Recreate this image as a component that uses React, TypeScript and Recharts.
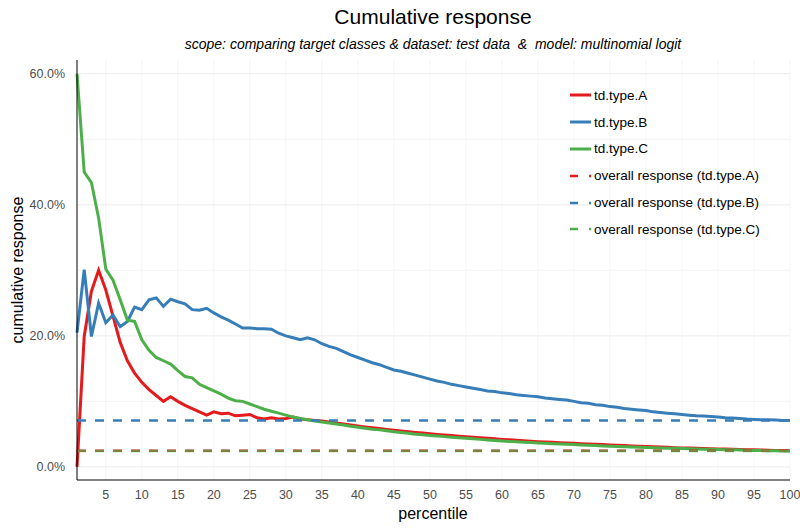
import { CartesianGrid, Line, LineChart, ReferenceLine, XAxis, YAxis } from "recharts";

// percentile (x) and cumulative response in % for each target class
const PERCENTILE = [
  1, 2, 3, 4, 5, 6, 7, 8, 9, 10, 11, 12, 13, 14, 15, 16, 17, 18, 19, 20,
  21, 22, 23, 24, 25, 26, 27, 28, 29, 30, 31, 32, 33, 34, 35, 36, 37, 38, 39, 40,
  41, 42, 43, 44, 45, 46, 47, 48, 49, 50, 51, 52, 53, 54, 55, 56, 57, 58, 59, 60,
  61, 62, 63, 64, 65, 66, 67, 68, 69, 70, 71, 72, 73, 74, 75, 76, 77, 78, 79, 80,
  81, 82, 83, 84, 85, 86, 87, 88, 89, 90, 91, 92, 93, 94, 95, 96, 97, 98, 99, 100,
];

const TYPE_A = [
  0.0, 19.9, 26.8, 30.0, 27.0, 23.0, 19.0, 16.2, 14.3, 12.9,
  11.8, 10.9, 10.0, 10.7, 10.0, 9.4, 8.9, 8.4, 7.9, 8.4,
  8.1, 8.2, 7.8, 7.9, 8.0, 7.5, 7.3, 7.5, 7.3, 7.4,
  7.6, 7.3, 7.2, 7.1, 7.0, 6.85, 6.7, 6.55, 6.4, 6.25,
  6.1, 5.97, 5.85, 5.72, 5.6, 5.48, 5.37, 5.26, 5.16, 5.06,
  4.96, 4.87, 4.78, 4.69, 4.6, 4.52, 4.44, 4.36, 4.28, 4.2,
  4.13, 4.06, 3.99, 3.92, 3.85, 3.8, 3.75, 3.7, 3.65, 3.6,
  3.55, 3.5, 3.45, 3.4, 3.35, 3.3, 3.25, 3.2, 3.15, 3.1,
  3.06, 3.02, 2.98, 2.94, 2.9, 2.87, 2.84, 2.81, 2.78, 2.75,
  2.72, 2.69, 2.66, 2.63, 2.6, 2.58, 2.55, 2.52, 2.49, 2.46,
];

const TYPE_B = [
  20.5, 30.1, 19.9, 25.0, 22.0, 23.2, 21.4, 22.2, 24.4, 24.0,
  25.5, 25.8, 24.5, 25.6, 25.2, 24.9, 24.0, 23.9, 24.2, 23.5,
  22.9, 22.4, 21.8, 21.2, 21.2, 21.1, 21.1, 21.0, 20.4, 20.0,
  19.7, 19.4, 19.7, 19.4, 18.8, 18.4, 18.1, 17.6, 17.1, 16.7,
  16.3, 15.9, 15.6, 15.2, 14.8, 14.6, 14.3, 14.0, 13.7, 13.4,
  13.1, 12.9, 12.6, 12.4, 12.2, 12.0, 11.8, 11.6, 11.5, 11.3,
  11.2, 11.0, 10.9, 10.8, 10.7, 10.5, 10.4, 10.3, 10.2, 10.0,
  9.8, 9.7, 9.5, 9.4, 9.2, 9.1, 8.9, 8.8, 8.7, 8.6,
  8.4, 8.3, 8.2, 8.1, 8.0, 7.9, 7.8, 7.75, 7.7, 7.6,
  7.5, 7.45, 7.4, 7.3, 7.25, 7.2, 7.2, 7.15, 7.1, 7.07,
];

const TYPE_C = [
  60.0, 45.0, 43.4, 38.0, 30.2, 28.5, 25.5, 22.4, 22.2, 19.4,
  17.8, 16.7, 16.2, 15.7, 14.7, 13.8, 13.6, 12.6, 12.1, 11.6,
  11.1, 10.5, 10.1, 10.0, 9.6, 9.2, 8.8, 8.5, 8.2, 7.9,
  7.6, 7.4, 7.2, 7.0, 6.85, 6.7, 6.55, 6.4, 6.2, 6.05,
  5.9, 5.75, 5.65, 5.5, 5.35, 5.25, 5.12, 5.0, 4.9, 4.8,
  4.7, 4.62, 4.53, 4.45, 4.36, 4.28, 4.2, 4.12, 4.03, 3.95,
  3.89, 3.83, 3.77, 3.71, 3.65, 3.6, 3.55, 3.5, 3.45, 3.4,
  3.35, 3.3, 3.25, 3.2, 3.15, 3.11, 3.07, 3.03, 2.99, 2.95,
  2.92, 2.89, 2.86, 2.83, 2.8, 2.77, 2.74, 2.71, 2.68, 2.65,
  2.63, 2.6, 2.58, 2.55, 2.52, 2.5, 2.48, 2.46, 2.44, 2.42,
];

// overall response per class (A, B, C)
const OVERALL = [2.46, 7.07, 2.42];

const SERIES_NAMES = ["td.type.A", "td.type.B", "td.type.C"];
const X_TICKS = [5, 10, 15, 20, 25, 30, 35, 40, 45, 50, 55, 60, 65, 70, 75, 80, 85, 90, 95, 100];
const Y_TICKS = [0, 20, 40, 60];
const Y_MINOR = [10, 30, 50];

const COLORS = ["#E41A1C", "#377EB8", "#4DAF4A"];
const FONT = '"Liberation Sans", Arial, sans-serif';
const TICK_STYLE = { fill: "#4D4D4D", fontSize: 12.5, fontFamily: FONT };

const data = PERCENTILE.map((p, i) => ({
  percentile: p,
  a: TYPE_A[i],
  b: TYPE_B[i],
  c: TYPE_C[i],
}));

const KEYS = ["a", "b", "c"];

function LegendBox() {
  const rows = [
    ...SERIES_NAMES.map((n, i) => ({ label: n, color: COLORS[i], dashed: false })),
    ...SERIES_NAMES.map((n, i) => ({ label: `overall response (${n})`, color: COLORS[i], dashed: true })),
  ];
  return (
    <div style={{ position: "absolute", left: 569, top: 82, fontFamily: FONT, fontSize: 13.5 }}>
      {rows.map((r) => (
        <div key={r.label} style={{ display: "flex", alignItems: "center", height: 26.8 }}>
          <svg width={26} height={10}>
            {r.dashed ? (
              <>
                <line x1={1} x2={9} y1={5} y2={5} stroke={r.color} strokeWidth={2.5} />
                <line x1={20} x2={22} y1={5} y2={5} stroke={r.color} strokeWidth={2.5} />
              </>
            ) : (
              <line x1={1} x2={22} y1={5} y2={5} stroke={r.color} strokeWidth={3} />
            )}
          </svg>
          <span style={{ color: "#000", marginLeft: -1 }}>{r.label}</span>
        </div>
      ))}
    </div>
  );
}

export default function App() {
  return (
    <div style={{ position: "absolute", left: 0, top: 0, width: 800, height: 532, background: "#fff" }}>
      <div
        style={{
          position: "absolute", left: 76, width: 714, top: 5, textAlign: "center",
          fontFamily: FONT, fontSize: 21, color: "#000",
        }}
      >
        Cumulative response
      </div>
      <div
        style={{
          position: "absolute", left: 76, width: 714, top: 36, textAlign: "center",
          fontFamily: FONT, fontSize: 14, fontStyle: "italic", color: "#000",
        }}
      >
        scope: comparing target classes &amp; dataset: test data &nbsp;&amp; &nbsp;model: multinomial logit
      </div>
      <LineChart width={800} height={532} data={data} margin={{ top: 60, right: 10, bottom: 22, left: 0 }}>
        <CartesianGrid stroke="#F5F5F5" horizontal={false} verticalValues={X_TICKS} />
        {Y_MINOR.map((v) => (
          <ReferenceLine key={v} y={v} stroke="#F4F4F4" strokeWidth={1} />
        ))}
        {Y_TICKS.map((v) => (
          <ReferenceLine key={v} y={v} stroke="#EBEBEB" strokeWidth={1} />
        ))}
        <XAxis
          type="number"
          dataKey="percentile"
          domain={[1, 100]}
          ticks={X_TICKS}
          interval={0}
          height={30}
          tickLine={false}
          axisLine={{ stroke: "#000" }}
          tick={TICK_STYLE}
          tickMargin={4}
        />
        <YAxis
          type="number"
          domain={[-2, 62.1]}
          ticks={Y_TICKS}
          allowDataOverflow
          tickFormatter={(v) => `${v.toFixed(1)}%`}
          tickLine={false}
          axisLine={{ stroke: "#000" }}
          tick={TICK_STYLE}
          tickMargin={6}
          width={77}
        />
        {KEYS.map((k, i) => (
          <Line
            key={k}
            type="linear"
            dataKey={k}
            name={SERIES_NAMES[i]}
            stroke={COLORS[i]}
            strokeWidth={3}
            dot={false}
            isAnimationActive={false}
          />
        ))}
        {OVERALL.map((v, i) => (
          <ReferenceLine
            key={`o${i}`}
            y={v}
            stroke={COLORS[i]}
            strokeWidth={2.5}
            strokeDasharray="9 9"
            strokeOpacity={i === 2 ? 0.7 : 1}
          />
        ))}
      </LineChart>
      <div
        style={{
          position: "absolute", left: 76, width: 714, top: 505, textAlign: "center",
          fontFamily: FONT, fontSize: 16, color: "#000",
        }}
      >
        percentile
      </div>
      <div
        style={{
          position: "absolute", left: 18, top: 270, transform: "translate(-50%, -50%) rotate(-90deg)",
          whiteSpace: "nowrap", fontFamily: FONT, fontSize: 16, color: "#000",
        }}
      >
        cumulative response
      </div>
      <LegendBox />
    </div>
  );
}
